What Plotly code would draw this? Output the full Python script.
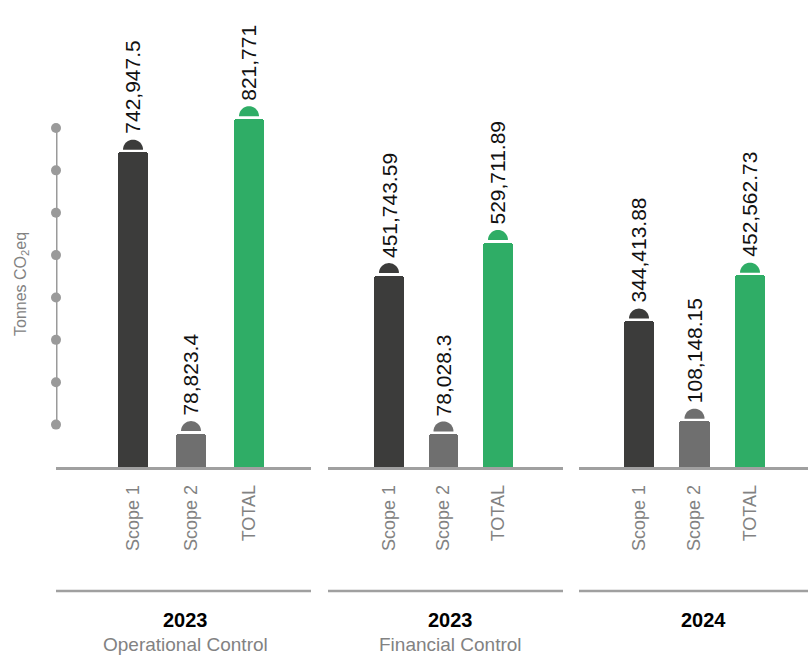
import plotly.graph_objects as go
import math

# ---- data ----
categories = ["Scope 1", "Scope 2", "TOTAL"]
op_control_2023 = [742947.5, 78823.4, 821771]
fin_control_2023 = [451743.59, 78028.3, 529711.89]
values_2024 = [344413.88, 108148.15, 452562.73]
group_years = ["2023", "2023", "2024"]
group_subtitles = ["Operational Control", "Financial Control", ""]
axis_dot_values = [100000, 200000, 300000, 400000, 500000, 600000, 700000, 800000]
y_title = "Tonnes CO<sub>2</sub>eq"

bar_colors = ["#3c3c3b", "#6f6f6f", "#2fad66"]
line_grey = "#a0a0a0"
label_grey = "#828282"
FONT = "Liberation Sans, Arial, Helvetica, sans-serif"

W, H = 808, 657
BASE_PX = 467          # pixel row of the baseline
Y_MAX = 1102000

panels = [
    dict(vals=op_control_2023, dom=(56, 311), rng=(-1.328, 3.069), width=0.517, center=185),
    dict(vals=fin_control_2023, dom=(328, 563), rng=(-1.119, 3.193), width=0.55, center=450),
    dict(vals=values_2024, dom=(579, 808), rng=(-1.081, 3.045), width=0.541, center=703),
]


def fmt(v):
    s = f"{v:,.2f}"
    return s.rstrip("0").rstrip(".")


def py(px):
    """paper y for a pixel row (plot area spans 0..BASE_PX)."""
    return (BASE_PX - px) / BASE_PX


fig = go.Figure()
shapes = []
annotations = []

# semicircle cap path (pixel units, relative to bar top)
pts = []
R, GAP = 10, 2.5
for i in range(0, 25):
    t = math.pi * i / 24
    pts.append((R * math.cos(t), GAP + R * math.sin(t)))
cap_path = "M " + " L ".join(f"{x:.2f},{y:.2f}" for x, y in pts) + " Z"

for k, p in enumerate(panels):
    xa = "x" if k == 0 else f"x{k+1}"
    fig.add_trace(go.Bar(
        x=categories, y=p["vals"], xaxis=xa, yaxis="y",
        marker=dict(color=bar_colors, line=dict(width=0), cornerradius=3),
        width=[p["width"]] * len(categories),
        hoverinfo="skip", showlegend=False,
    ))
    for i, v in enumerate(p["vals"]):
        shapes.append(dict(
            type="path", xref=xa, yref="y",
            xsizemode="pixel", ysizemode="pixel",
            xanchor=i, yanchor=v, path=cap_path,
            fillcolor=bar_colors[i], line=dict(width=0), layer="above",
        ))
        annotations.append(dict(
            x=i, y=v, xref=xa, yref="y", text=fmt(v), showarrow=False,
            textangle=-90, xanchor="center", yanchor="bottom", yshift=16,
            font=dict(family=FONT, size=21, color="#111111"),
        ))
    # bottom group line
    shapes.append(dict(
        type="line", xref=f"{xa} domain", yref="paper",
        x0=0, x1=1, y0=py(591), y1=py(591),
        line=dict(color=line_grey, width=2.5),
    ))
    annotations.append(dict(
        x=p["center"] / W, y=py(620), xref="paper", yref="paper",
        text=f"<b>{group_years[k]}</b>", showarrow=False,
        xanchor="center", yanchor="middle",
        font=dict(family=FONT, size=20, color="#000000"),
    ))
    if group_subtitles[k]:
        annotations.append(dict(
            x=p["center"] / W, y=py(644), xref="paper", yref="paper",
            text=group_subtitles[k], showarrow=False,
            xanchor="center", yanchor="middle",
            font=dict(family=FONT, size=19, color=label_grey),
        ))

# decorative y axis: line with dots
fig.add_trace(go.Scatter(
    x=[0] * len(axis_dot_values), y=axis_dot_values, xaxis="x4", yaxis="y",
    mode="lines+markers",
    line=dict(color="#9a9a9a", width=3),
    marker=dict(color="#9a9a9a", size=10),
    cliponaxis=False, hoverinfo="skip", showlegend=False,
))

annotations.append(dict(
    x=22 / W, y=py(284), xref="paper", yref="paper", text=y_title,
    showarrow=False, textangle=-90, xanchor="center", yanchor="middle",
    font=dict(family=FONT, size=16, color=label_grey),
))

axis_common = dict(
    type="category", showgrid=False, zeroline=False,
    showline=True, linecolor=line_grey, linewidth=2.5,
    ticks="", tickangle=-90, ticklabelstandoff=8,
    tickfont=dict(family=FONT, size=18, color=label_grey),
    anchor="y", fixedrange=True,
)

layout = dict(
    width=W, height=H,
    margin=dict(l=0, r=0, t=0, b=H - BASE_PX, pad=0),
    paper_bgcolor="white", plot_bgcolor="white",
    showlegend=False, bargap=0,
    yaxis=dict(range=[0, Y_MAX], visible=False, showgrid=False,
               zeroline=False, domain=[0, 1], fixedrange=True),
    xaxis4=dict(overlaying="x", range=[0, 1], visible=False, anchor="y"),
    shapes=shapes, annotations=annotations,
)
for k, p in enumerate(panels):
    name = "xaxis" if k == 0 else f"xaxis{k+1}"
    layout[name] = dict(axis_common, domain=[p["dom"][0] / W, p["dom"][1] / W],
                        range=list(p["rng"]))

fig.update_layout(**layout)
fig.write_html("out.html")
